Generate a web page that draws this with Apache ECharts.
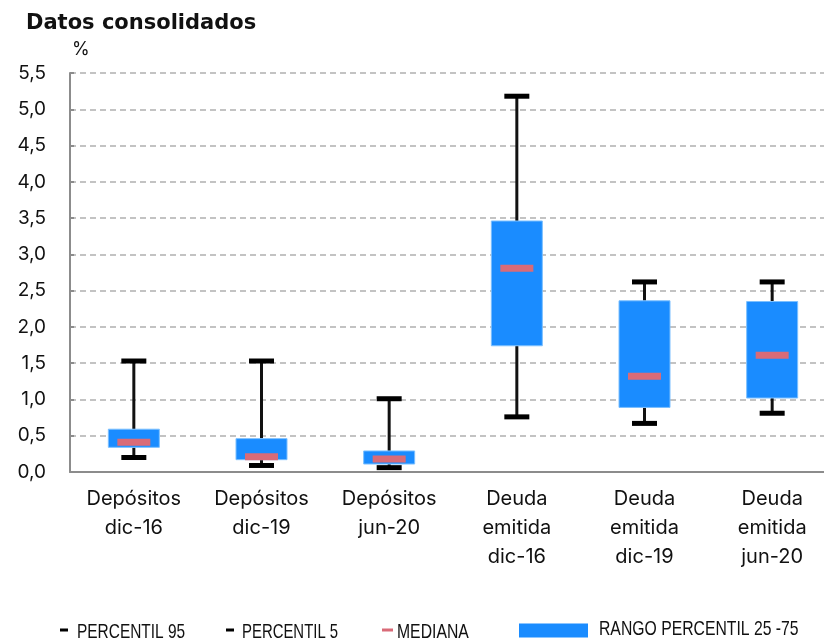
<!DOCTYPE html>
<html>
<head>
<meta charset="utf-8">
<script src="https://cdn.jsdelivr.net/npm/echarts@6/dist/echarts.min.js"></script>
<style>html,body{margin:0;padding:0;background:#fff;overflow:hidden;width:824px;height:640px;}#c{width:836px;height:640px;}</style>
</head>
<body>
<div id="c"></div>
<script>
const categories = ['Depósitos\ndic-16', 'Depósitos\ndic-19', 'Depósitos\njun-20', 'Deuda\nemitida\ndic-16', 'Deuda\nemitida\ndic-19', 'Deuda\nemitida\njun-20'];
const p5 = [0.20, 0.09, 0.06, 0.76, 0.67, 0.81];
const p25 = [0.34, 0.17, 0.11, 1.74, 0.89, 1.02];
const median = [0.41, 0.21, 0.18, 2.81, 1.32, 1.61];
const p75 = [0.59, 0.46, 0.29, 3.46, 2.36, 2.35];
const p95 = [1.53, 1.53, 1.01, 5.18, 2.62, 2.62];
const seriesNames = ['PERCENTIL 95', 'PERCENTIL 5', 'MEDIANA', 'RANGO PERCENTIL 25 -75'];

const BLUE = '#1a8cff', PINK = '#d96b78', BLACK = '#111111';
const FONT = 'Inter, "Liberation Sans", sans-serif';
const LEGFONT = '"Liberation Sans", Arial, sans-serif';

function whisker(params, api) {
  const x = api.value(0);
  const a = api.coord([x, api.value(1)]);
  const b = api.coord([x, api.value(2)]);
  return {
    type: 'group',
    children: [
      { type: 'line', shape: { x1: a[0], y1: a[1], x2: b[0], y2: b[1] }, style: { stroke: BLACK, lineWidth: 3 } },
      { type: 'rect', shape: { x: b[0] - 12.5, y: b[1] - 2.5, width: 25, height: 5 }, style: { fill: '#000' } }
    ]
  };
}
function box(params, api) {
  const x = api.value(0);
  const lo = api.coord([x, api.value(1)]);
  const hi = api.coord([x, api.value(2)]);
  return { type: 'rect', shape: { x: lo[0] - 25.5, y: hi[1], width: 51, height: lo[1] - hi[1] },
    style: { fill: BLUE, stroke: '#7cc0ff', lineWidth: 1 } };
}
function med(params, api) {
  const p = api.coord([api.value(0), api.value(1)]);
  return { type: 'rect', shape: { x: p[0] - 16.5, y: p[1] - 3.5, width: 33, height: 7 }, style: { fill: PINK } };
}

// legend (drawn as graphic so the condensed text can be matched)
function legendItem(name, color, mx, my, mw, mh, tx, ty, sx) {
  return [
    { type: 'rect', shape: { x: mx, y: my, width: mw, height: mh }, style: { fill: color } },
    { type: 'text', x: tx, y: ty, scaleX: sx, style: { text: name, fontFamily: LEGFONT, fontSize: 21, fill: '#111', textVerticalAlign: 'middle', textAlign: 'left' } }
  ];
}

const idx = categories.map((c, i) => i);
const chart = echarts.init(document.getElementById('c'), null, { renderer: 'canvas' });
chart.setOption({
  animation: false,
  title: { text: 'Datos consolidados', left: 21, top: 8, textStyle: { fontFamily: '"DejaVu Sans", sans-serif', fontWeight: 'bold', fontSize: 21, color: '#111' } },
  graphic: [].concat(
    legendItem(seriesNames[0], '#000', 60, 628.5, 8, 3, 77, 632.5, 0.735),
    legendItem(seriesNames[1], '#000', 226, 628.5, 8, 3, 242, 632.5, 0.71),
    legendItem(seriesNames[2], PINK, 382, 628.5, 11, 3, 397, 632.5, 0.75),
    legendItem(seriesNames[3], BLUE, 519, 623.5, 69, 14, 599, 629.5, 0.75)
  ),
  grid: { left: 70, top: 73, right: 0, bottom: 168, containLabel: false },
  xAxis: {
    type: 'category', data: categories, boundaryGap: true,
    axisLine: { lineStyle: { color: '#8c8c8c', width: 2 } },
    axisTick: { inside: true, length: 8, lineStyle: { color: '#8c8c8c', width: 2 } },
    axisLabel: { fontFamily: FONT, fontSize: 20, color: '#111', margin: 12, lineHeight: 29, interval: 0 }
  },
  yAxis: {
    type: 'value', min: 0, max: 5.5, interval: 0.5,
    name: '%', nameLocation: 'end', nameGap: 14,
    nameTextStyle: { fontFamily: FONT, fontSize: 18, color: '#111', align: 'left', padding: [0, 0, 0, 2] },
    axisLine: { show: true, lineStyle: { color: '#8c8c8c', width: 2 } },
    axisTick: { show: true, inside: true, length: 4, lineStyle: { color: '#8c8c8c', width: 2 } },
    axisLabel: { fontFamily: FONT, fontSize: 19, color: '#111', margin: 24, formatter: v => v.toFixed(1).replace('.', ',') },
    splitLine: { lineStyle: { color: '#b0b0b0', width: 1.5, type: [6, 4] } }
  },
  series: [
    { name: seriesNames[0], type: 'custom', renderItem: whisker, z: 2,
      encode: { x: 0, y: [1, 2] }, data: idx.map(i => [i, p75[i], p95[i]]) },
    { name: seriesNames[1], type: 'custom', renderItem: whisker, z: 2,
      encode: { x: 0, y: [1, 2] }, data: idx.map(i => [i, p25[i], p5[i]]) },
    { name: seriesNames[3], type: 'custom', renderItem: box, z: 3,
      encode: { x: 0, y: [1, 2] }, data: idx.map(i => [i, p25[i], p75[i]]) },
    { name: seriesNames[2], type: 'custom', renderItem: med, z: 4,
      encode: { x: 0, y: 1 }, data: idx.map(i => [i, median[i]]) }
  ]
});
</script>
</body>
</html>
